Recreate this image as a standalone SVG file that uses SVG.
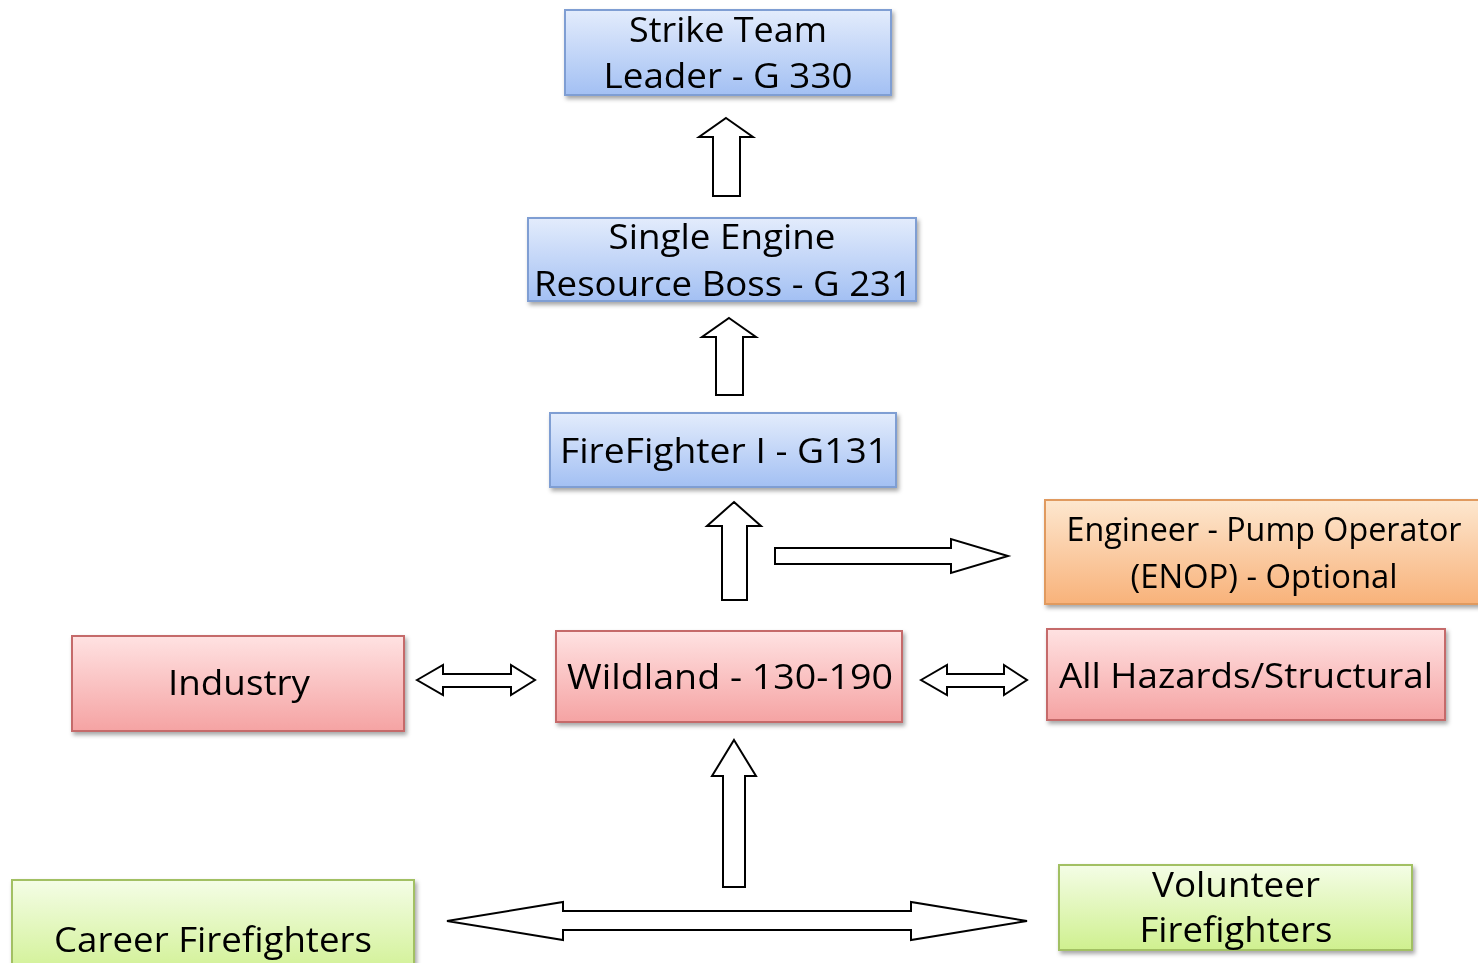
<svg xmlns="http://www.w3.org/2000/svg" width="1478" height="963" viewBox="0 0 1478 963">
<defs>
<linearGradient id="gBlue" x1="0" y1="0" x2="0" y2="1"><stop offset="0" stop-color="#e3ecfc"/><stop offset="1" stop-color="#a3c0f3"/></linearGradient>
<linearGradient id="gRed" x1="0" y1="0" x2="0" y2="1"><stop offset="0" stop-color="#ffe2e2"/><stop offset="1" stop-color="#f5a3a3"/></linearGradient>
<linearGradient id="gOrange" x1="0" y1="0" x2="0" y2="1"><stop offset="0" stop-color="#fde7cf"/><stop offset="1" stop-color="#f8b27a"/></linearGradient>
<linearGradient id="gGreen" x1="0" y1="0" x2="0" y2="1"><stop offset="0" stop-color="#f4fde6"/><stop offset="1" stop-color="#cff08f"/></linearGradient>
<filter id="sh" x="-5%" y="-10%" width="112%" height="130%"><feDropShadow dx="2" dy="3" stdDeviation="2" flood-color="#000" flood-opacity="0.35"/></filter>
</defs>
<style>
.blue{fill:url(#gBlue);stroke:#7f9ed3;stroke-width:2}
.red{fill:url(#gRed);stroke:#c56a6a;stroke-width:2}
.orange{fill:url(#gOrange);stroke:#e09a5e;stroke-width:2}
.green{fill:url(#gGreen);stroke:#a2c063;stroke-width:2}
text{font-family:"Open Sans","Noto Sans","Liberation Sans",sans-serif;fill:#000;text-anchor:middle}
.t{font-size:35px}
.s{font-size:32px}
.arr{fill:#fff;stroke:#000;stroke-width:2;stroke-linejoin:miter}
</style>
<g id="n-strike" filter="url(#sh)"><rect class="blue" x="565" y="10" width="326" height="85"/>
<text class="t" x="728" y="42" textLength="198" lengthAdjust="spacingAndGlyphs">Strike Team</text>
<text class="t" x="728" y="88" textLength="249" lengthAdjust="spacingAndGlyphs">Leader - G 330</text></g>
<g id="n-single" filter="url(#sh)"><rect class="blue" x="528" y="218" width="388" height="83"/>
<text class="t" x="722" y="249" textLength="227" lengthAdjust="spacingAndGlyphs">Single Engine</text>
<text class="t" x="723" y="296" textLength="378" lengthAdjust="spacingAndGlyphs">Resource Boss - G 231</text></g>
<g id="n-ff1" filter="url(#sh)"><rect class="blue" x="550" y="413" width="346" height="74"/>
<text class="t" x="724" y="463" textLength="328" lengthAdjust="spacingAndGlyphs">FireFighter I - G131</text></g>
<g id="n-enop" filter="url(#sh)"><rect class="orange" x="1045" y="500" width="440" height="104"/>
<text class="s" x="1264" y="541" textLength="395" lengthAdjust="spacingAndGlyphs">Engineer - Pump Operator</text>
<text class="s" x="1264" y="588" textLength="267" lengthAdjust="spacingAndGlyphs">(ENOP) - Optional</text></g>
<g id="n-industry" filter="url(#sh)"><rect class="red" x="72" y="636" width="332" height="95"/>
<text class="t" x="239" y="695" textLength="142" lengthAdjust="spacingAndGlyphs">Industry</text></g>
<g id="n-wildland" filter="url(#sh)"><rect class="red" x="556" y="631" width="346" height="91"/>
<text class="t" x="730" y="689" textLength="326" lengthAdjust="spacingAndGlyphs">Wildland - 130-190</text></g>
<g id="n-allhaz" filter="url(#sh)"><rect class="red" x="1047" y="629" width="398" height="91"/>
<text class="t" x="1246" y="688" textLength="374" lengthAdjust="spacingAndGlyphs">All Hazards/Structural</text></g>
<g id="n-career" filter="url(#sh)"><rect class="green" x="12" y="880" width="402" height="100"/>
<text class="t" x="213" y="952" textLength="318" lengthAdjust="spacingAndGlyphs">Career Firefighters</text></g>
<g id="n-volunteer" filter="url(#sh)"><rect class="green" x="1059" y="865" width="353" height="85"/>
<text class="t" x="1236" y="897" textLength="168" lengthAdjust="spacingAndGlyphs">Volunteer</text>
<text class="t" x="1236" y="942" textLength="193" lengthAdjust="spacingAndGlyphs">Firefighters</text></g>
<g id="connectors">
<polygon class="arr" points="726,118 753,137 740,137 740,196 713,196 713,137 699,137"/>
<polygon class="arr" points="729,318 756,337 743,337 743,395 716,395 716,337 702,337"/>
<polygon class="arr" points="734,502 761,526 747,526 747,600 722,600 722,526 707,526"/>
<polygon class="arr" points="775,548 951,548 951,539 1008,556 951,573 951,564 775,564"/>
<polygon class="arr" points="417,680 443,665 443,674 511,674 511,665 535,680 511,695 511,687 443,687 443,695"/>
<polygon class="arr" points="921,680 947,665 947,674 1004,674 1004,665 1027,680 1004,695 1004,687 947,687 947,695"/>
<polygon class="arr" points="734,740 756,776 745,776 745,887 723,887 723,776 712,776"/>
<polygon class="arr" points="447,921 563,902 563,911 911,911 911,902 1027,921 911,940 911,930 563,930 563,940"/>
</g>
</svg>
